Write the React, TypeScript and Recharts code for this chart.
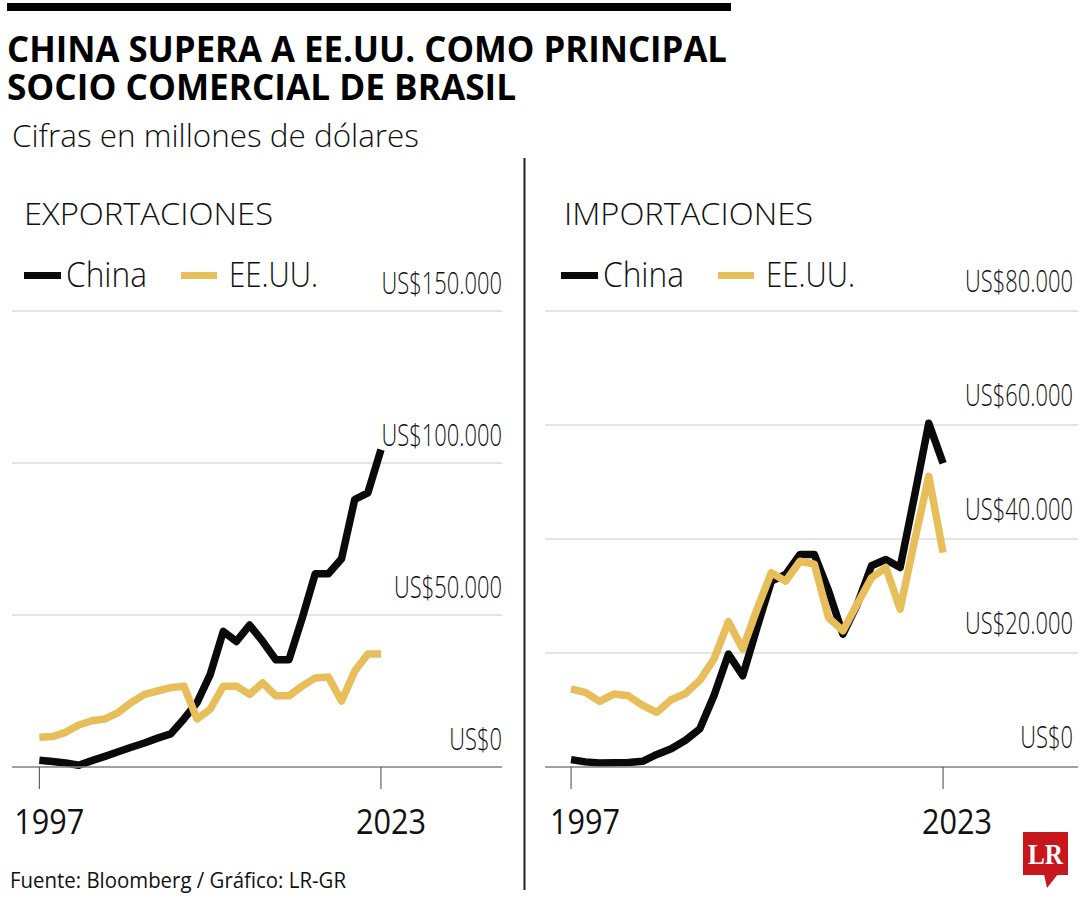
import React from 'react';
import { LineChart, Line, XAxis, YAxis, CartesianGrid } from 'recharts';

// años 1997-2023
const years = [
  1997, 1998, 1999, 2000, 2001, 2002, 2003, 2004, 2005, 2006, 2007, 2008, 2009, 2010,
  2011, 2012, 2013, 2014, 2015, 2016, 2017, 2018, 2019, 2020, 2021, 2022, 2023,
];

// Exportaciones (millones de dólares)
const expChina = [
  2200, 1800, 1300, 600, 2100, 3500, 5000, 6500, 7900, 9500, 10900, 15800, 21200, 30400,
  44600, 41300, 46700, 41300, 35300, 35300, 48900, 63600, 63600, 68500, 88000, 90200, 104400,
];
const expUS = [
  9800, 10000, 11400, 13800, 15200, 15800, 17900, 21200, 23900, 25000, 26100, 26600, 15800, 19000,
  26600, 26600, 23900, 27700, 23400, 23400, 26600, 29300, 29600, 21700, 31500, 37200, 37200,
];

// Importaciones (millones de dólares)
const impChina = [
  1300, 900, 700, 750, 800, 1000, 2200, 3200, 4700, 6700, 12600, 19800, 16000, 24500,
  32600, 33800, 37300, 37300, 30900, 23300, 28500, 35300, 36400, 35000, 47500, 60300, 53300,
];
const impUS = [
  13700, 13100, 11500, 12800, 12500, 10800, 9600, 11800, 12900, 15200, 19000, 25500, 20700, 27700,
  34100, 32600, 36100, 35600, 26200, 23900, 28600, 33200, 35000, 27700, 39600, 51000, 37600,
];

const expTicks = [0, 50000, 100000, 150000];
const impTicks = [0, 20000, 40000, 60000, 80000];
const yearTicks = [1997, 2023];

const BLACK = '#0a0a0a';
const GOLD = '#E8BE5A';
const FONT = '"Open Sans", "Noto Sans", sans-serif';

const exportData = years.map((y, i) => ({ year: y, china: expChina[i], us: expUS[i] }));
const importData = years.map((y, i) => ({ year: y, china: impChina[i], us: impUS[i] }));

const fmt = (v: number) => 'US$' + String(v).replace(/\B(?=(\d{3})+(?!\d))/g, '.');

const T = ({ x, y, len, size, weight = 400, anchor = 'start', fill = '#111', family = FONT, children }: any) => (
  <text
    x={x}
    y={y}
    fontSize={size}
    fontWeight={weight}
    textAnchor={anchor}
    fill={fill}
    style={{ fontFamily: family }}
    textLength={len}
    lengthAdjust="spacingAndGlyphs"
  >
    {children}
  </text>
);

// etiquetas del eje Y: alineadas a la derecha, encima de cada línea
const makeYTick = (right: number, lift: number) => (props: any) => {
  const { y, payload } = props;
  return (
    <g transform={`translate(${right},${y - lift})`}>
      <text
        x={0}
        y={0}
        textAnchor="end"
        fontSize={32}
        fontWeight={300}
        fill="#111"
        transform="scale(0.685,1)"
        style={{ fontFamily: FONT }}
      >
        {fmt(payload.value)}
      </text>
    </g>
  );
};

const makeXTick = (shift: number) => (props: any) => {
  const { x, y, payload } = props;
  return (
    <text
      x={x + shift}
      y={y + 43}
      textAnchor="middle"
      fontSize={34}
      fill="#111"
      style={{ fontFamily: FONT }}
      textLength={70}
      lengthAdjust="spacingAndGlyphs"
    >
      {payload.value}
    </text>
  );
};

const Panel = ({ data, left, width, margin, xDomain, yMax, yTicks, labelRight, lift, shift }: any) => (
  <div style={{ position: 'absolute', left, top: 250 }}>
    <LineChart width={width} height={600} data={data} margin={margin}>
      <CartesianGrid vertical={false} stroke="#c9c9c9" strokeWidth={1.2} />
      <XAxis
        dataKey="year"
        type="number"
        domain={xDomain}
        ticks={yearTicks}
        interval={0}
        height={70}
        tickSize={22}
        tickLine={{ stroke: '#444' }}
        axisLine={{ stroke: '#8a8a8a', strokeWidth: 1.5 }}
        tick={makeXTick(shift)}
        allowDataOverflow
      />
      <YAxis
        orientation="right"
        width={1}
        domain={[0, yMax]}
        ticks={yTicks}
        axisLine={false}
        tickLine={false}
        tick={makeYTick(labelRight, lift)}
        interval={0}
      />
      <Line dataKey="china" stroke={BLACK} strokeWidth={7.5} dot={false} strokeLinejoin="round" isAnimationActive={false} />
      <Line dataKey="us" stroke={GOLD} strokeWidth={7.5} dot={false} strokeLinejoin="round" isAnimationActive={false} />
    </LineChart>
  </div>
);

const Legend = ({ x }: { x: number }) => (
  <g>
    <rect x={x} y={272} width={37} height={7} fill={BLACK} />
    <T x={x + 42} y={287} len={81} size={34} weight={300}>China</T>
    <rect x={x + 157} y={272} width={36} height={7} fill={GOLD} />
    <T x={x + 205} y={287} len={89} size={34} weight={300}>EE.UU.</T>
  </g>
);

export default function App() {
  return (
    <div style={{ position: 'absolute', left: 0, top: 0, width: 1080, height: 900, background: '#fff', overflow: 'hidden' }}>
      <svg width={1080} height={900} style={{ position: 'absolute', left: 0, top: 0 }}>
        <rect x={7} y={3} width={724} height={8} fill="#000" />
        <T x={7} y={62} len={720} size={35} weight={700} fill="#000">CHINA SUPERA A EE.UU. COMO PRINCIPAL</T>
        <T x={7} y={100} len={509} size={35} weight={700} fill="#000">SOCIO COMERCIAL DE BRASIL</T>
        <T x={12} y={147} len={407} size={32} weight={300}>Cifras en millones de dólares</T>

        <line x1={524.5} y1={158} x2={524.5} y2={890} stroke="#222" strokeWidth={2} />

        <T x={24} y={225} len={249} size={32} weight={300}>EXPORTACIONES</T>
        <T x={564} y={225} len={249} size={32} weight={300}>IMPORTACIONES</T>
        <Legend x={24} />
        <Legend x={561} />

        <T x={10} y={888} len={336} size={22}>Fuente: Bloomberg / Gráfico: LR-GR</T>

        <rect x={1023} y={832} width={45} height={43} fill="#C8161D" />
        <polygon points="1044,874 1058,874 1047,888" fill="#C8161D" />
        <T x={1045.5} y={864} len={35} size={30} weight={700} anchor="middle" fill="#fff" family='"Liberation Serif", "DejaVu Serif", serif'>LR</T>
      </svg>

      <Panel
        data={exportData}
        left={0}
        width={525}
        margin={{ top: 61, right: 22, left: 12, bottom: 13 }}
        xDomain={[1994.92, 2032.21]}
        yMax={150000}
        yTicks={expTicks}
        labelRight={502}
        lift={17}
        shift={10}
      />
      <Panel
        data={importData}
        left={530}
        width={550}
        margin={{ top: 61, right: 1, left: 15, bottom: 13 }}
        xDomain={[1995.18, 2032.43]}
        yMax={80000}
        yTicks={impTicks}
        labelRight={543}
        lift={19}
        shift={14}
      />
    </div>
  );
}
